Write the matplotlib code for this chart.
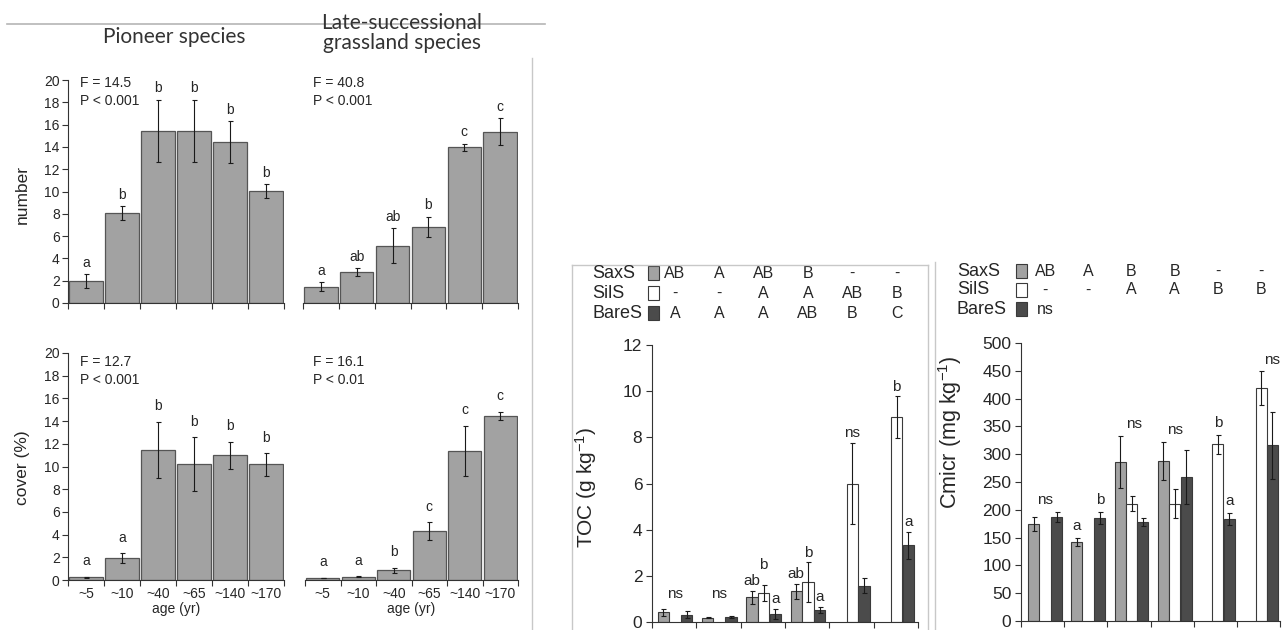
import matplotlib
matplotlib.use('Agg')
import matplotlib.pyplot as plt
import numpy as np
from matplotlib.transforms import blended_transform_factory
from matplotlib.lines import Line2D
from matplotlib.patches import Rectangle

plt.rcParams['font.family'] = ['Liberation Sans', 'DejaVu Sans']
plt.rcParams['mathtext.fontset'] = 'custom'
plt.rcParams['mathtext.rm'] = 'Liberation Sans'
plt.rcParams['mathtext.it'] = 'Liberation Sans:italic'
plt.rcParams['mathtext.bf'] = 'Liberation Sans:bold'

# ---------------- data ----------------
ages = ['~5', '~10', '~40', '~65', '~140', '~170']

pioneer_number = [2.0, 8.05, 15.45, 15.45, 14.45, 10.05]
pioneer_number_se = [0.62, 0.62, 2.8, 2.8, 1.9, 0.62]
pioneer_number_letters = ['a', 'b', 'b', 'b', 'b', 'b']

late_number = [1.45, 2.75, 5.15, 6.85, 13.95, 15.35]
late_number_se = [0.4, 0.37, 1.55, 0.9, 0.35, 1.2]
late_number_letters = ['a', 'ab', 'ab', 'b', 'c', 'c']

pioneer_cover = [0.25, 1.92, 11.45, 10.2, 11.0, 10.2]
pioneer_cover_se = [0.05, 0.45, 2.5, 2.4, 1.2, 1.0]
pioneer_cover_letters = ['a', 'a', 'b', 'b', 'b', 'b']

late_cover = [0.18, 0.3, 0.88, 4.3, 11.4, 14.45]
late_cover_se = [0.03, 0.05, 0.22, 0.8, 2.2, 0.38]
late_cover_letters = ['a', 'a', 'b', 'c', 'c', 'c']

stats_pioneer_number = ['F = 14.5', 'P < 0.001']
stats_late_number = ['F = 40.8', 'P < 0.001']
stats_pioneer_cover = ['F = 12.7', 'P < 0.001']
stats_late_cover = ['F = 16.1', 'P < 0.01']

soil_names = ['SaxS', 'SilS', 'BareS']

toc_saxs = [0.43, 0.19, 1.07, 1.33, np.nan, np.nan]
toc_saxs_se = [0.15, 0.03, 0.29, 0.33, np.nan, np.nan]
toc_sils = [np.nan, np.nan, 1.26, 1.72, 6.0, 8.87]
toc_sils_se = [np.nan, np.nan, 0.33, 0.86, 1.77, 0.9]
toc_bares = [0.32, 0.22, 0.36, 0.53, 1.57, 3.32]
toc_bares_se = [0.15, 0.04, 0.21, 0.12, 0.32, 0.58]
toc_bar_letters = [['', '', 'ab', 'ab', '', ''],
                   ['', '', 'b', 'b', '', 'b'],
                   ['', '', 'a', 'a', '', 'a']]
toc_group_letters = ['ns', 'ns', '', '', 'ns', '']
toc_row_letters = [['AB', 'A', 'AB', 'B', '-', '-'],
                   ['-', '-', 'A', 'A', 'AB', 'B'],
                   ['A', 'A', 'A', 'AB', 'B', 'C']]

cmic_saxs = [174, 142, 286, 288, np.nan, np.nan]
cmic_saxs_se = [13, 8, 47, 34, np.nan, np.nan]
cmic_sils = [np.nan, np.nan, 211, 211, 318, 419]
cmic_sils_se = [np.nan, np.nan, 14, 26, 17, 30]
cmic_bares = [187, 185, 178, 259, 184, 316]
cmic_bares_se = [9, 11, 8, 49, 11, 60]
cmic_bar_letters = [['', 'a', '', '', '', ''],
                    ['', '', '', '', 'b', ''],
                    ['', 'b', '', '', 'a', '']]
cmic_group_letters = ['ns', '', 'ns', 'ns', '', 'ns']
cmic_row_letters = [['AB', 'A', 'B', 'B', '-', '-'],
                    ['-', '-', 'A', 'A', 'B', 'B'],
                    ['ns', '', '', '', '', '']]

# ---------------- figure ----------------
W, H = 1285, 630
fig = plt.figure(figsize=(W / 100, H / 100), dpi=100)
fig.patch.set_facecolor('white')


def px_axes(x0, x1, ytop, ybot):
    return fig.add_axes([x0 / W, (H - ybot) / H, (x1 - x0) / W, (ybot - ytop) / H])


def fx(x):
    return x / W


def fy(y):
    return (H - y) / H


TXT = '#262626'
GRAY = '#a2a2a2'
EDGE = '#555555'
DARK = '#4b4b4b'


def left_panel(ax, vals, se, letters, stats, stats_xy, show_y, show_x, pad):
    x = np.arange(len(vals))
    ax.bar(x, vals, width=0.93, color=GRAY, edgecolor=EDGE, linewidth=0.9, zorder=2)
    ax.errorbar(x, vals, yerr=se, fmt='none', ecolor='#1a1a1a', elinewidth=0.8,
                capsize=1.8, capthick=0.8, zorder=3)
    for xi, v, e, t in zip(x, vals, se, letters):
        ax.text(xi, v + e + pad, t, ha='center', va='center', fontsize=10, color=TXT)
    ax.set_xlim(-0.5, len(vals) - 0.5)
    ax.set_ylim(0, 20)
    for s in ['top', 'right']:
        ax.spines[s].set_visible(False)
    ax.spines['bottom'].set_color('#333333')
    ax.spines['left'].set_color('#333333')
    ax.set_xticks(np.arange(len(vals) + 1) - 0.5)
    ax.set_xticklabels([])
    ax.tick_params(axis='x', length=4, width=0.8, color='#333333')
    if show_x:
        ax.set_xticks(x, minor=True)
        ax.set_xticklabels(ages, minor=True, fontsize=10, color=TXT)
        ax.tick_params(axis='x', which='minor', length=0, pad=5)
        ax.set_xlabel('age (yr)', fontsize=10, color=TXT, labelpad=1)
    if show_y:
        ax.set_yticks(np.arange(0, 21, 2))
        ax.tick_params(axis='y', length=4, width=0.8, labelsize=10, labelcolor=TXT,
                       color='#333333', pad=2)
    else:
        ax.spines['left'].set_visible(False)
        ax.set_yticks([])
    ax.set_facecolor('none')
    fig.text(fx(stats_xy[0]), fy(stats_xy[1]), stats[0], fontsize=10, color=TXT,
             ha='left', va='center')
    fig.text(fx(stats_xy[0]), fy(stats_xy[1] + 18), stats[1], fontsize=10, color=TXT,
             ha='left', va='center')


ax1 = px_axes(68, 284, 80, 303)
left_panel(ax1, pioneer_number, pioneer_number_se, pioneer_number_letters,
           stats_pioneer_number, (80, 83), True, False, 1.0)
ax2 = px_axes(303, 518, 80, 303)
left_panel(ax2, late_number, late_number_se, late_number_letters,
           stats_late_number, (313, 83), False, False, 1.05)
ax3 = px_axes(68, 284, 353, 580)
left_panel(ax3, pioneer_cover, pioneer_cover_se, pioneer_cover_letters,
           stats_pioneer_cover, (80, 362), True, True, 1.35)
ax4 = px_axes(305, 518, 353, 580)
left_panel(ax4, late_cover, late_cover_se, late_cover_letters,
           stats_late_cover, (313, 362), False, True, 1.35)

fig.text(fx(22), fy(195), 'number', rotation=90, fontsize=12.5, color=TXT,
         ha='center', va='center')
fig.text(fx(22), fy(468), 'cover (%)', rotation=90, fontsize=12.5, color=TXT,
         ha='center', va='center')

fig.text(fx(174), fy(37), 'Pioneer species', fontsize=15, color='#333333',
         ha='center', va='center', family=['Lato', 'DejaVu Sans'])
fig.text(fx(402), fy(33), 'Late-successional\ngrassland species', fontsize=15,
         color='#333333', ha='center', va='center', linespacing=1.05,
         family=['Lato', 'DejaVu Sans'])

# decorative frame lines from the source layout
lc = '#b5b5b5'
fig.add_artist(Line2D([fx(7), fx(545)], [fy(24), fy(24)], color=lc, lw=1.2, zorder=0))
fig.add_artist(Line2D([fx(532), fx(532)], [fy(58), fy(630)], color='#c8c8c8', lw=1))
fig.add_artist(Line2D([fx(572), fx(928)], [fy(265), fy(265)], color='#c8c8c8', lw=1))
fig.add_artist(Line2D([fx(572), fx(572)], [fy(265), fy(630)], color='#c8c8c8', lw=1))
fig.add_artist(Line2D([fx(928), fx(928)], [fy(265), fy(630)], color='#c8c8c8', lw=1))
fig.add_artist(Line2D([fx(935), fx(935)], [fy(262), fy(630)], color='#c8c8c8', lw=1))


def soil_panel(ax, series, ses, bar_letters, group_letters, row_letters, ylim, ystep,
               pad, min_group_y, legend_x, legend_rows, patch_x, tick_fs, shift,
               group_xshift):
    n = len(series[0])
    g = np.arange(n)
    colors = [GRAY, 'white', DARK]
    offs = [-0.265, 0.0, 0.265]
    tops = []
    for k in range(3):
        v = np.array(series[k], dtype=float)
        e = np.array(ses[k], dtype=float)
        xs = g + shift + offs[k]
        ax.bar(xs, v, width=0.255, color=colors[k], edgecolor='#3a3a3a', linewidth=0.8,
               zorder=2)
        ax.errorbar(xs, v, yerr=e, fmt='none', ecolor='#1a1a1a', elinewidth=0.8,
                    capsize=1.8, capthick=0.8, zorder=3)
        tops.append(v + e)
    tops = np.array(tops)
    # per-bar letters
    for gi in range(n):
        prev_y = None
        for k in range(3):
            t = bar_letters[k][gi]
            if not t:
                prev_y = None
                continue
            y = tops[k, gi] + pad
            if prev_y is not None and y < prev_y + 0.35 * pad * 2 and y > prev_y - pad:
                y = prev_y + 1.6 * pad
            ax.text(gi + shift + offs[k], y, t, ha='center', va='center', fontsize=11,
                    color=TXT)
            prev_y = y
        t = group_letters[gi]
        if t:
            y = max(np.nanmax(tops[:, gi]) + pad, min_group_y)
            ax.text(gi + shift + group_xshift[gi], y, t, ha='center', va='center',
                    fontsize=11, color=TXT)
    ax.set_xlim(-0.5, n - 0.5)
    ax.set_ylim(*ylim)
    ax.set_yticks(np.arange(ylim[0], ylim[1] + ystep / 2, ystep))
    ax.tick_params(axis='y', length=4, width=0.8, labelsize=tick_fs, labelcolor=TXT,
                   color='#333333', pad=3)
    ax.set_xticks(np.arange(n + 1) - 0.5)
    ax.set_xticklabels([])
    ax.tick_params(axis='x', length=4, width=0.8, color='#333333')
    for s in ['top', 'right']:
        ax.spines[s].set_visible(False)
    ax.spines['bottom'].set_color('#333333')
    ax.spines['left'].set_color('#333333')
    ax.set_facecolor('none')
    # legend rows
    tr = blended_transform_factory(ax.transData, fig.transFigure)
    for k in range(3):
        yy = legend_rows[k]
        fig.text(fx(legend_x), fy(yy), soil_names[k], fontsize=13, color=TXT,
                 ha='left', va='center')
        fig.add_artist(Rectangle((fx(patch_x), fy(yy + 7)), 11 / W, 14 / H,
                                 facecolor=colors[k], edgecolor='#3a3a3a', lw=0.8,
                                 transform=fig.transFigure))
        for gi in range(n):
            t = row_letters[k][gi]
            if t:
                ax.text(gi + shift, fy(yy), t, transform=tr, ha='center', va='center',
                        fontsize=11.5, color=TXT, clip_on=False)


ax5 = px_axes(652, 918, 345, 622)
soil_panel(ax5, [toc_saxs, toc_sils, toc_bares],
           [toc_saxs_se, toc_sils_se, toc_bares_se],
           toc_bar_letters, toc_group_letters, toc_row_letters,
           (0, 12), 2, 0.43, 1.2, 592, (273, 293, 313), 648, 12.5, 0.02,
           [0, 0, 0, 0, 0, 0])
fig.text(fx(586), fy(487), 'TOC (g kg$^{\\mathregular{-1}}$)', rotation=90, fontsize=15,
         color=TXT, ha='center', va='center')

ax6 = px_axes(1021, 1280, 343, 621)
soil_panel(ax6, [cmic_saxs, cmic_sils, cmic_bares],
           [cmic_saxs_se, cmic_sils_se, cmic_bares_se],
           cmic_bar_letters, cmic_group_letters, cmic_row_letters,
           (0, 500), 50, 21, 0, 957, (271, 290, 309), 1016, 12.5, 0.06,
           [0, 0, 0.05, 0, 0, 0.25])
fig.text(fx(950), fy(432), 'Cmicr (mg kg$^{\\mathregular{-1}}$)', rotation=90,
         fontsize=15.5, color=TXT, ha='center', va='center')

fig.savefig('out.png', dpi=100, facecolor='white')
